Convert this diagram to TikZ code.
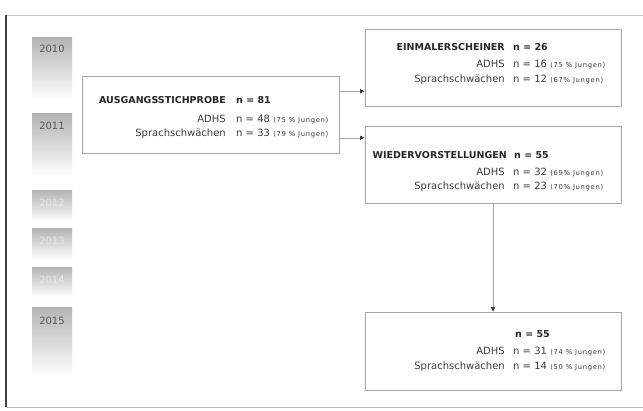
\documentclass[tikz,border=0pt]{standalone}
\usepackage{fontspec}
\setmainfont{DejaVu Sans}
\newfontfamily\notefont[LetterSpace=10]{DejaVu Sans}
\usetikzlibrary{arrows.meta,calc}
\definecolor{txt}{HTML}{3A3A3A}
\definecolor{boxgray}{HTML}{A8A8A8}
\definecolor{yeartop}{HTML}{B4B4B4}
\begin{document}
\begin{tikzpicture}[x=1pt,y=-1pt,
  box/.style={draw=boxgray, line width=0.6pt, fill=white, minimum width=#1, minimum height=77pt, inner sep=0pt},
  yearbar/.style={top color=yeartop, bottom color=white, minimum width=40pt, minimum height=#1, inner sep=0pt},
  yeartxt/.style={inner sep=0pt, font=\fontsize{10}{12}\selectfont, text=#1},
  lab/.style={anchor=base east, inner sep=0pt, text=txt, font=\fontsize{10}{12}\selectfont},
  val/.style={anchor=base west, inner sep=0pt, text=txt, font=\fontsize{10}{12}\selectfont},
  ttl/.style={anchor=base east, inner sep=0pt, text=black!85, font=\fontsize{9.5}{11}\selectfont\bfseries},
  tval/.style={anchor=base west, inner sep=0pt, text=black!85, font=\fontsize{9.5}{11}\selectfont\bfseries},
  note/.style={anchor=base west, inner sep=0pt, text=txt, font=\notefont\fontsize{6.8}{8}\selectfont},
  arr/.style={draw=gray!70, line width=0.5pt, -{Latex[length=4.5pt,width=4.5pt,color=black!80]}}
]
\useasboundingbox (0,0) rectangle (643,410);
\fill[white] (0,0) rectangle (643,410);

% outer frame
\coordinate (fTL) at (6,15);
\coordinate (fBL) at (6,407);
\coordinate (fTR) at (643,15);
\coordinate (fBR) at (643,407);
\draw[gray!45, line width=0.8pt] (fTL) -- (fTR);
\draw[gray!55, line width=0.8pt] (fBL) -- (fBR);
\draw[black!75, line width=1.2pt] (fTL) -- (fBL);

% year bars
\node[yearbar=63pt] (y2010) at (52,68.5) {};
\node[yearbar=64pt] (y2011) at (52,145) {};
\node[yearbar=32pt] (y2012) at (52,206) {};
\node[yearbar=32pt] (y2013) at (52,244) {};
\node[yearbar=30pt] (y2014) at (52,282) {};
\node[yearbar=70pt] (y2015) at (52,342) {};
\foreach \y in {2010,2011,2012,2013,2014,2015}{
  \draw[gray!60, line width=0.5pt] (y\y.north west) -- (y\y.north east);
}
\node[yeartxt=black!65] (t2010) at ([yshift=-12pt]y2010.north) {2010};
\node[yeartxt=black!65] (t2011) at ([yshift=-13pt]y2011.north) {2011};
\node[yeartxt=white!80!gray] (t2012) at ([yshift=-13pt]y2012.north) {2012};
\node[yeartxt=white!80!gray] (t2013) at ([yshift=-13pt]y2013.north) {2013};
\node[yeartxt=white!80!gray] (t2014) at ([yshift=-13pt]y2014.north) {2014};
\node[yeartxt=black!65] (t2015) at ([yshift=-14pt]y2015.north) {2015};

% boxes
\node[box=257pt] (b1) at (210.5,114.5) {};
\node[box=256pt] (b2) at (493,67.5) {};
\node[box=256pt] (b3) at (493,164.5) {};
\node[box=256pt, minimum height=78pt] (b4) at (493,351) {};

% box 1 text
\node[ttl] (h1) at (226,103) {AUSGANGSSTICHPROBE};
\node[tval] (hv1) at (236,103) {n = 81};
\node[lab] (a1) at (226,122) {ADHS};
\node[val] (av1) at (236,122) {n = 48};
\node[note] (an1) at ([xshift=3pt]av1.base east) {(75 \% Jungen)};
\node[lab] (s1) at (226,136.5) {Sprachschwächen};
\node[val] (sv1) at (236,136.5) {n = 33};
\node[note] (sn1) at ([xshift=3pt]sv1.base east) {(79 \% Jungen)};

% box 2 text
\node[ttl] (h2) at (505,50) {EINMALERSCHEINER};
\node[tval] (hv2) at (513,50) {n = 26};
\node[lab] (a2) at (505,67) {ADHS};
\node[val] (av2) at (513,67) {n = 16};
\node[note] (an2) at ([xshift=3pt]av2.base east) {(75 \% Jungen)};
\node[lab] (s2) at (505,82) {Sprachschwächen};
\node[val] (sv2) at (513,82) {n = 12};
\node[note] (sn2) at ([xshift=3pt]sv2.base east) {(67\% Jungen)};

% box 3 text
\node[ttl] (h3) at (507,158) {WIEDERVORSTELLUNGEN};
\node[tval] (hv3) at (514,158) {n = 55};
\node[lab] (a3) at (505,175) {ADHS};
\node[val] (av3) at (513,175) {n = 32};
\node[note] (an3) at ([xshift=3pt]av3.base east) {(69\% Jungen)};
\node[lab] (s3) at (505,189.5) {Sprachschwächen};
\node[val] (sv3) at (513,189.5) {n = 23};
\node[note] (sn3) at ([xshift=3pt]sv3.base east) {(70\% Jungen)};

% box 4 text
\node[tval] (hv4) at (515,337) {n = 55};
\node[lab] (a4) at (505,354) {ADHS};
\node[val] (av4) at (513,354) {n = 31};
\node[note] (an4) at ([xshift=3pt]av4.base east) {(74 \% Jungen)};
\node[lab] (s4) at (505,369) {Sprachschwächen};
\node[val] (sv4) at (513,369) {n = 14};
\node[note] (sn4) at ([xshift=3pt]sv4.base east) {(50 \% Jungen)};

% connectors
\coordinate (c1) at ($(b1.north east)!0.2!(b1.south east)$);
\coordinate (c2) at ($(b1.north east)!0.8!(b1.south east)$);
\draw[arr] (c1) -- (c1 -| b2.west);
\draw[arr] (c2) -- (c2 -| b3.west);
\draw[arr] (b3.south) -- (b4.north);
\end{tikzpicture}
\end{document}
